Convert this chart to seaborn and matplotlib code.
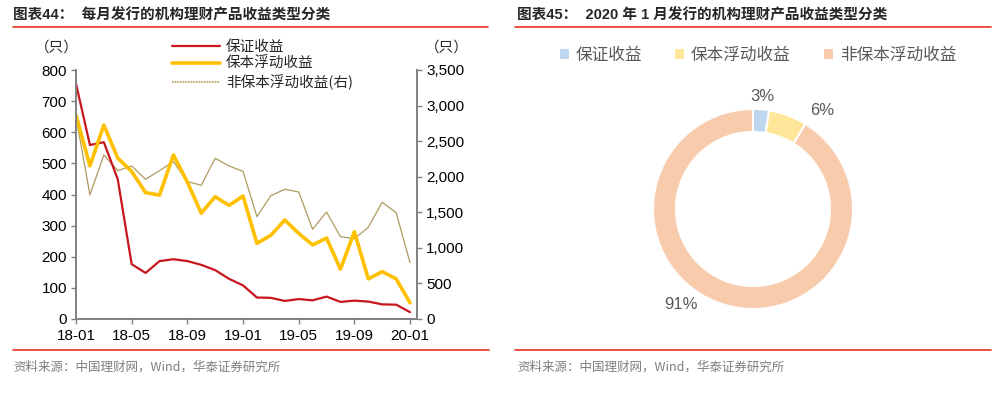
import numpy as np
import pandas as pd
import matplotlib
matplotlib.use("Agg")
import matplotlib.pyplot as plt
import seaborn as sns
from matplotlib.lines import Line2D
from matplotlib.patches import Patch

# ---------------- data ----------------
months = ["18-01", "18-02", "18-03", "18-04", "18-05", "18-06", "18-07", "18-08", "18-09",
          "18-10", "18-11", "18-12", "19-01", "19-02", "19-03", "19-04", "19-05", "19-06",
          "19-07", "19-08", "19-09", "19-10", "19-11", "19-12", "20-01"]
guaranteed = [756, 559, 568, 449, 176, 148, 186, 192, 186, 174, 157, 129, 108,
              69, 68, 58, 64, 60, 72, 55, 59, 56, 47, 46, 22]
principal_float = [655, 492, 623, 517, 474, 406, 398, 527, 440, 340, 393, 365, 395,
                   243, 269, 318, 275, 238, 260, 160, 280, 129, 152, 129, 52]
non_principal = [2844, 1743, 2306, 2085, 2151, 1964, 2085, 2212, 1931, 1880, 2259, 2151, 2075,
                 1439, 1734, 1823, 1786, 1261, 1504, 1157, 1129, 1289, 1641, 1495, 792]
tick_months = ["18-01", "18-05", "18-09", "19-01", "19-05", "19-09", "20-01"]

pie_labels = ["保证收益", "保本浮动收益", "非保本浮动收益"]
pie_shares = [2.6, 6.2, 91.2]

series_names = ["保证收益", "保本浮动收益", "非保本浮动收益(右)"]
title_left = "图表44：  每月发行的机构理财产品收益类型分类"
title_right = "图表45：  2020 年 1 月发行的机构理财产品收益类型分类"
source = "资料来源：中国理财网，Wind，华泰证券研究所"

# ---------------- style ----------------
sns.set_style("white")
plt.rcParams["font.family"] = ["Liberation Sans", "Noto Sans CJK SC", "DejaVu Sans"]
plt.rcParams["axes.unicode_minus"] = False

W, H = 1004, 393
fig = plt.figure(figsize=(W / 100, H / 100), dpi=100)

def fx(px):
    return px / W

def fy(py):
    return 1 - py / H

RED = "#C8161D"
YEL = "#FFC000"
TAN = "#B09A5E"
GRAY = "#808080"
LINE_RED = "#E8321E"

# ---------------- left chart ----------------
ax = fig.add_axes([fx(76), fy(319), fx(417) - fx(76), fy(70) - fy(319)])
ax2 = ax.twinx()
df = pd.DataFrame({"idx": np.arange(len(months)), "month": months,
                   "g": guaranteed, "p": principal_float, "n": non_principal})

sns.lineplot(data=df, x="idx", y="g", ax=ax, color=RED, lw=1.6, legend=False)
sns.lineplot(data=df, x="idx", y="p", ax=ax, color=YEL, lw=2.6, legend=False)
sns.lineplot(data=df, x="idx", y="n", ax=ax2, color=TAN, lw=0.9, legend=False)
ax.set_zorder(ax2.get_zorder() + 1)
ax.patch.set_visible(False)

ax.set_xlim(0, 24.5)
ax.set_ylim(0, 800)
ax2.set_ylim(0, 3500)
ax.set_yticks(range(0, 801, 100))
ax2.set_yticks(range(0, 3501, 500))
ax2.set_yticklabels([f"{v:,}" for v in range(0, 3501, 500)])
tpos = [months.index(m) for m in tick_months]
ax.set_xticks(tpos)
ax.set_xticklabels(tick_months)
ax.set_xlabel("")
ax.set_ylabel("")
ax2.set_ylabel("")

for a in (ax, ax2):
    for s in a.spines.values():
        s.set_visible(False)
ax.spines["left"].set_visible(True)
ax.spines["bottom"].set_visible(True)
ax2.spines["right"].set_visible(True)
for s in (ax.spines["left"], ax.spines["bottom"], ax2.spines["right"]):
    s.set_color(GRAY)
    s.set_linewidth(1.4)

ax.tick_params(axis="both", which="both", direction="out", length=3.5, width=1,
               color=GRAY, labelsize=11, labelcolor="#000000", pad=3)
ax.tick_params(axis="y", left=True)
ax.tick_params(axis="x", bottom=True, pad=4)
ax2.tick_params(axis="y", right=True, direction="out", length=3.5, width=1,
                color=GRAY, labelsize=11, labelcolor="#000000", pad=3)

fig.text(fx(57), fy(48), "（只）", ha="center", va="center", fontsize=10.5,
         family=["Noto Sans CJK SC"])
fig.text(fx(447), fy(48), "（只）", ha="center", va="center", fontsize=10.5,
         family=["Noto Sans CJK SC"])

handles = [Line2D([0], [0], color=RED, lw=1.6),
           Line2D([0], [0], color=YEL, lw=2.6),
           Line2D([0], [0], color=TAN, lw=1.2, ls=(0, (1, 0.6)))]
fig.legend(handles, series_names, loc="upper left",
           bbox_to_anchor=(fx(172), fy(40)), frameon=False,
           handlelength=3.3, handletextpad=0.4, labelspacing=0.2, borderpad=0,
           borderaxespad=0, prop={"family": ["Noto Sans CJK SC"], "size": 10.5})

# ---------------- right chart (donut) ----------------
cx, cy, r = 753, 209, 100
pax = fig.add_axes([fx(cx - r), fy(cy + r), fx(2 * r), fy(cy - r) - fy(cy + r)])
pie_colors = ["#BDD7EE", "#FFE699", "#F8CBAD"]
wedges, _t, autot = pax.pie(pie_shares, colors=pie_colors, startangle=90, counterclock=False,
                            radius=1, autopct="%.0f%%", pctdistance=1.18,
                            wedgeprops=dict(width=0.23, edgecolor="white", linewidth=1.5),
                            textprops=dict(color="#595959", fontsize=12))
# reposition percentage labels as in reference
label_angles = [85, 55, -127]
label_r = [1.13, 1.2, 1.2]
for t, ang, rr in zip(autot, label_angles, label_r):
    t.set_position((rr * np.cos(np.radians(ang)), rr * np.sin(np.radians(ang))))
    t.set_ha("center")
    t.set_va("center")
pax.set_xlim(-1, 1)
pax.set_ylim(-1, 1)
pax.set_aspect("equal")
pax.axis("off")

leg_handles = [Patch(facecolor=c, edgecolor="none") for c in pie_colors]
fig.legend(leg_handles, pie_labels, loc="center", bbox_to_anchor=(fx(758), fy(55)),
           ncol=3, frameon=False, handlelength=0.55, handleheight=0.55,
           handletextpad=0.4, columnspacing=2.0,
           prop={"family": ["Noto Sans CJK SC"], "size": 12},
           labelcolor="#595959")

# ---------------- titles, rules, footers ----------------
fig.text(fx(13), fy(15), title_left, ha="left", va="center", fontsize=10.5,
         fontweight="bold", family=["Liberation Sans", "Noto Sans CJK SC"])
fig.text(fx(517), fy(15), title_right, ha="left", va="center", fontsize=10.5,
         fontweight="bold", family=["Liberation Sans", "Noto Sans CJK SC"])

for (x0, x1, yy) in [(13, 488, 27), (515, 991, 27), (13, 489, 350), (515, 991, 350)]:
    fig.add_artist(Line2D([fx(x0), fx(x1)], [fy(yy), fy(yy)], color=LINE_RED, lw=1.2,
                          transform=fig.transFigure))

fig.text(fx(13), fy(367), source, ha="left", va="center", fontsize=9,
         color="#7F7F7F", family=["Noto Sans CJK SC"])
fig.text(fx(517), fy(367), source, ha="left", va="center", fontsize=9,
         color="#7F7F7F", family=["Noto Sans CJK SC"])

fig.savefig("out.png", dpi=100)
